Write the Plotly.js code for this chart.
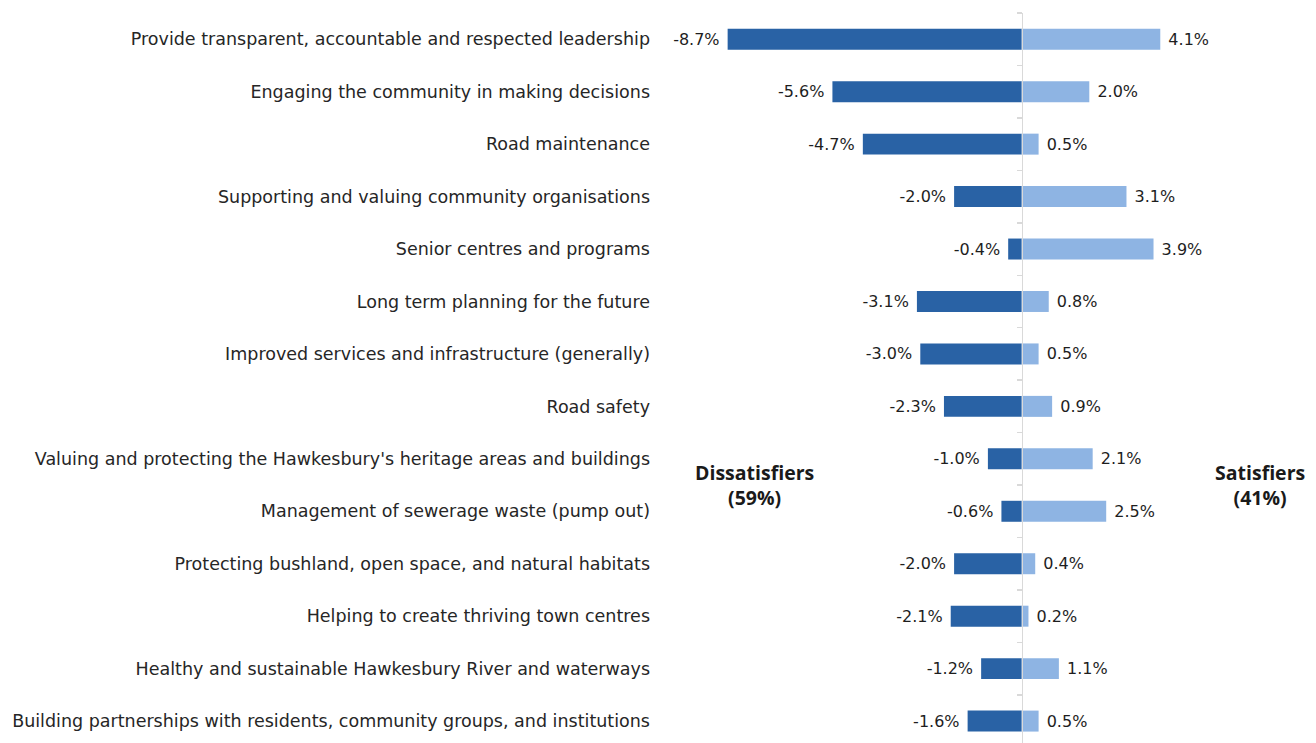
<!DOCTYPE html>
<html>
<head>
<meta charset="utf-8">
<script src="https://cdn.plot.ly/plotly-3.0.1.min.js"></script>
<style>
  html, body { margin: 0; padding: 0; background: #ffffff; }
  #chart { width: 1316px; height: 743px; }
</style>
</head>
<body>
<div id="chart"></div>
<script>
const categories = [
  "Provide transparent, accountable and respected leadership",
  "Engaging the community in making decisions",
  "Road maintenance",
  "Supporting and valuing community organisations",
  "Senior centres and programs",
  "Long term planning for the future",
  "Improved services and infrastructure (generally)",
  "Road safety",
  "Valuing and protecting the Hawkesbury's heritage areas and buildings",
  "Management of sewerage waste (pump out)",
  "Protecting bushland, open space, and natural habitats",
  "Helping to create thriving town centres",
  "Healthy and sustainable Hawkesbury River and waterways",
  "Building partnerships with residents, community groups, and institutions"
];
const dissatisfiers = [-8.7, -5.6, -4.7, -2.0, -0.4, -3.1, -3.0, -2.3, -1.0, -0.6, -2.0, -2.1, -1.2, -1.6];
const satisfiers = [4.1, 2.0, 0.5, 3.1, 3.9, 0.8, 0.5, 0.9, 2.1, 2.5, 0.4, 0.2, 1.1, 0.5];
const groupLabels = ["<b>Dissatisfiers<br>(59%)</b>", "<b>Satisfiers<br>(41%)</b>"];

const FONT = "DejaVu Sans, Verdana, sans-serif";
const BOLDFONT = "Open Sans, sans-serif";
const boundaryTicks = [];
for (let i = 0; i <= categories.length; i++) boundaryTicks.push(i - 0.5);

const yRange = [13.418, -0.5];

const traces = [
  {
    type: "bar", orientation: "h", name: "Dissatisfiers",
    y: categories, x: dissatisfiers, width: 0.4,
    marker: { color: "#2962a5", line: { width: 0 } },
    texttemplate: "%{x:.1f}%\u00a0", textposition: "outside", cliponaxis: false,
    constraintext: "none",
    textfont: { family: FONT, size: 16, color: "#1e1e1e" },
    hoverinfo: "x+y"
  },
  {
    type: "bar", orientation: "h", name: "Satisfiers",
    y: categories, x: satisfiers, width: 0.4,
    marker: { color: "#8eb4e3", line: { width: 0 } },
    texttemplate: "\u00a0%{x:.1f}%", textposition: "outside", cliponaxis: false,
    constraintext: "none",
    textfont: { family: FONT, size: 16, color: "#1e1e1e" },
    hoverinfo: "x+y"
  },
  {
    type: "scatter", mode: "markers", x: [0], y: [0], yaxis: "y2",
    marker: { opacity: 0, size: 1 }, hoverinfo: "skip", showlegend: false
  }
];

const layout = {
  width: 1316, height: 743,
  margin: { l: 655, r: 0, t: 13, b: 0, pad: 0 },
  paper_bgcolor: "#ffffff", plot_bgcolor: "#ffffff",
  barmode: "relative",
  showlegend: false,
  font: { family: FONT, size: 16, color: "#262626" },
  xaxis: {
    range: [-10.849, 8.707], showticklabels: false, ticks: "",
    showgrid: false, zeroline: false, showline: false, fixedrange: true
  },
  yaxis: {
    type: "category", range: yRange, showgrid: false, zeroline: false,
    showline: false, ticks: "", ticklabelstandoff: 4,
    tickfont: { family: FONT, size: 17.5, color: "#262626" }
  },
  yaxis2: {
    type: "linear", overlaying: "y", anchor: "free", position: 0.5548,
    side: "left", range: yRange, tickvals: boundaryTicks,
    showticklabels: false, ticks: "outside", ticklen: 5, tickwidth: 1.5,
    tickcolor: "#d9d9d9", showline: true, linecolor: "#d9d9d9", linewidth: 1.5,
    showgrid: false, zeroline: false
  },
  annotations: [
    { text: groupLabels[0], xref: "x", yref: "y", x: -7.92, y: 8.5,
      xanchor: "center", yanchor: "middle", showarrow: false, align: "center",
      font: { family: BOLDFONT, size: 19.5, color: "#1a1a1a" } },
    { text: groupLabels[1], xref: "x", yref: "y", x: 7.05, y: 8.5,
      xanchor: "center", yanchor: "middle", showarrow: false, align: "center",
      font: { family: BOLDFONT, size: 19.5, color: "#1a1a1a" } }
  ]
};

Plotly.newPlot("chart", traces, layout, { displayModeBar: false, staticPlot: true });
</script>
</body>
</html>
